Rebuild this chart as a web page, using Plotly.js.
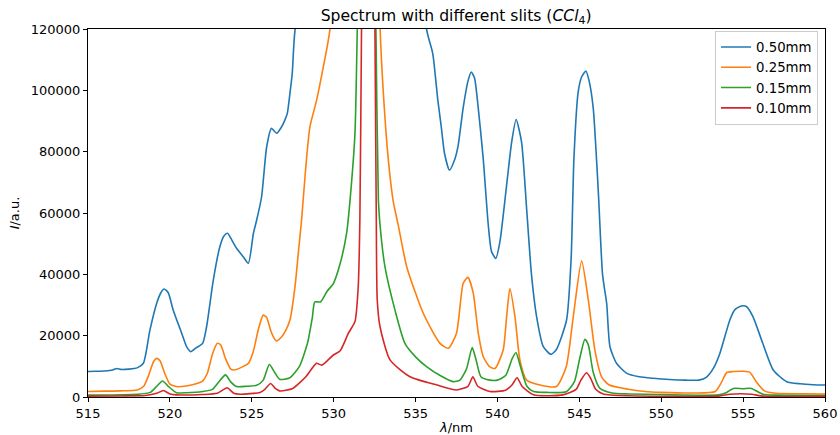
<!DOCTYPE html>
<html>
<head>
<meta charset="utf-8">
<script src="https://cdn.plot.ly/plotly-3.0.1.min.js"></script>
<style>html,body{margin:0;padding:0;background:#fff;}#chart{width:840px;height:435px;}</style>
</head>
<body>
<div id="chart"></div>
<script>
const seriesNames = ["0.50mm", "0.25mm", "0.15mm", "0.10mm"];
const seriesColors = ["#1f77b4", "#ff7f0e", "#2ca02c", "#d62728"];

const wl050 = [515,515.5,516,516.5,516.75,517,517.5,518,518.38,518.78,519.19,519.45,519.65,519.9,520.2,520.72,521.02,521.26,521.6,522.0,522.24,522.65,523.05,523.3,523.52,523.8,524.07,524.48,524.79,525.1,525.3,525.6,525.91,526.2,526.52,526.82,527.02,527.17,527.33,527.47,527.64,531.5,532.1,533.5,535.67,536.05,536.36,536.57,536.77,537.07,537.38,537.6,537.9,538.2,538.4,538.6,538.83,539.13,539.44,539.64,539.9,540.15,540.56,540.87,541.14,541.47,541.78,542.08,542.39,542.8,543.27,543.6,544.22,544.5,544.67,544.93,545.15,545.4,545.6,545.85,546.16,546.42,546.67,546.87,547.27,547.9,548.66,549.5,550.5,551.5,552.3,552.77,553.2,553.58,554.19,554.5,554.9,555.2,555.6,556.2,556.84,557.66,558.5,559.3,560];
const I050 = [8300,8400,8500,8800,9300,9000,9100,9500,11000,21800,30500,34000,35200,34000,28400,20800,16400,14800,16000,17500,22900,38100,49000,52500,53400,51000,48500,45700,43600,53400,57700,65300,81600,87600,86000,88100,90300,92500,99000,105500,119700,250000,300000,250000,120000,112000,96800,88100,79400,74000,77300,82000,94000,103000,106000,104000,94100,77800,56100,47400,45200,50600,69100,83200,90500,83200,61500,39800,26200,16400,13900,15500,25100,45200,77800,99500,104500,106300,103000,94100,66900,39800,30500,16400,11000,7700,6600,6100,5700,5500,5500,6500,9500,14200,25100,28500,29700,29500,26200,17500,8800,5000,4300,4000,3900];

const wl025 = [515,516,517,518,518.4,518.7,519.0,519.2,519.4,519.7,520.0,520.4,521.0,521.6,522.0,522.3,522.6,522.9,523.1,523.4,523.7,523.9,524.3,524.8,525.1,525.4,525.7,525.9,526.2,526.5,526.8,527.1,527.33,527.64,527.84,528.04,528.3,528.55,528.96,529.37,529.77,531.5,532.1,532.5,532.83,533.03,533.33,533.64,533.94,534.46,535.47,536.49,537.0,537.5,537.91,538.2,538.52,538.83,539.13,539.5,539.85,540.35,540.56,540.76,541.07,541.37,541.78,542.6,543.6,544.2,544.63,545.14,545.55,545.95,546.36,546.8,548,549,550,552,553.3,553.7,554.0,554.4,555.0,555.4,555.8,556.3,557,558.5,560];
const I025 = [1800,1900,2000,2300,3500,7000,11500,12600,11800,7500,4200,3400,3600,4300,5200,8000,14000,17500,17000,12500,9200,8800,9500,11000,15000,22000,26700,26000,21000,18300,19500,22000,25100,36000,46900,57700,75100,88100,96800,107700,119700,250000,300000,250000,121000,99500,77800,63700,56100,42500,27300,17500,15900,20800,37100,39000,33900,20800,13200,10000,9300,15300,26200,35400,26200,12100,5500,3900,3400,9900,26200,44400,31600,15300,6600,4000,2500,1800,1500,1300,1800,5000,8000,8300,8400,8100,5000,2000,1200,1050,1000];

const wl015 = [515,516,517,518,518.8,519.2,519.55,519.9,520.4,521,522,522.6,523.0,523.4,523.7,524.07,524.7,525.3,525.7,526.07,526.4,526.7,527.3,527.9,528.4,528.7,528.85,529.2,529.6,529.98,530.4,530.79,531.0,531.3,531.44,531.8,532.1,532.3,532.58,532.73,532.83,533.13,533.74,534.35,535.0,535.67,536.5,537.3,537.7,538.1,538.46,538.7,539.0,539.54,540.0,540.5,540.9,541.13,541.4,541.8,542.2,543,544.2,544.7,545.0,545.34,545.55,545.85,546.26,547,548,550,553.5,554.0,554.4,555.0,555.5,556.2,557,560];
const I015 = [600,650,700,850,1500,3500,5200,3500,1400,1400,1800,2500,5000,7200,5000,3400,3500,3800,5500,10600,8000,5800,6200,9900,17500,26000,31000,31000,34500,37000,43600,53400,64200,86000,119700,250000,300000,250000,120000,64200,56100,42500,28400,17500,13100,9900,7000,5000,5500,9000,16100,12000,6500,5500,5500,7000,12500,14500,10000,3500,1800,1500,1700,5000,12000,18800,17000,8000,2800,1300,1000,800,700,1500,2800,2700,2800,900,600,500];

const wl010 = [515,517,518.5,519.2,519.6,520.0,520.4,522,522.9,523.5,523.9,524.3,525.5,525.8,526.15,526.4,526.7,527.5,528.3,528.7,528.96,529.27,529.98,530.4,530.9,531.3,531.5,531.6,531.7,531.9,532.1,532.3,532.52,532.6,532.66,532.83,533.44,534.66,536.3,537.5,538.2,538.5,538.8,539.54,540.5,540.9,541.2,541.5,542.2,544,544.8,545.1,545.44,545.7,546.0,546.46,548,553.5,554.2,555.5,556.2,560];
const I010 = [300,350,500,1200,2100,1000,700,800,1200,3000,1200,900,1500,2500,4400,3000,2000,2800,6600,9500,11000,10400,13700,15100,20800,24600,36000,57700,120000,250000,300000,250000,120000,60000,31700,22900,12100,6600,3900,2300,3500,6600,3500,1800,2200,4000,6300,3500,700,700,2500,5500,7900,6000,2500,1000,400,300,900,900,300,200];

const xTicks = [515,520,525,530,535,540,545,550,555,560];
const yTicks = [0,20000,40000,60000,80000,100000,120000];

const xs = [wl050, wl025, wl015, wl010];
const ys = [I050, I025, I015, I010];

const traces = seriesNames.map((n, i) => ({
  x: xs[i], y: ys[i], name: n, type: 'scatter', mode: 'lines',
  line: {color: seriesColors[i], width: 1.6, shape: 'spline', smoothing: 0.6}
}));

const font = {family: 'DejaVu Sans, sans-serif', size: 13, color: '#000'};
const legFont = {family: 'DejaVu Sans, sans-serif', size: 13.3, color: '#000'};

const layout = {
  width: 840, height: 435,
  margin: {l: 88, r: 15, t: 29, b: 38},
  paper_bgcolor: '#fff', plot_bgcolor: '#fff',
  font: font,
  title: {text: 'Spectrum with different slits (<i>CCl</i><sub>4</sub>)', font: {family: 'DejaVu Sans, sans-serif', size: 15.6, color: '#000'}, x: 0.543, xanchor: 'center', y: 0.965, yanchor: 'middle'},
  xaxis: {
    range: [515, 560], tickvals: xTicks, ticktext: xTicks.map(String),
    showgrid: false, zeroline: false, showline: true, linecolor: '#000', linewidth: 1, mirror: true,
    ticks: 'outside', ticklen: 4, tickcolor: '#000', tickfont: font,
    title: {text: '<i>λ</i>/nm', font: font, standoff: 4}
  },
  yaxis: {
    range: [0, 120000], tickvals: yTicks, ticktext: yTicks.map(String),
    showgrid: false, zeroline: false, showline: true, linecolor: '#000', linewidth: 1, mirror: true,
    ticks: 'outside', ticklen: 4, tickcolor: '#000', tickfont: font,
    title: {text: '<i>I</i>/a.u.', font: font, standoff: 8}
  },
  showlegend: true,
  legend: {x: 0.9905, xanchor: 'right', y: 0.995, yanchor: 'top', bgcolor: 'rgba(255,255,255,0.8)', bordercolor: '#cccccc', borderwidth: 1, font: legFont, itemwidth: 30, tracegroupgap: 0}
};

Plotly.newPlot('chart', traces, layout, {displayModeBar: false, staticPlot: true});
</script>
</body>
</html>
